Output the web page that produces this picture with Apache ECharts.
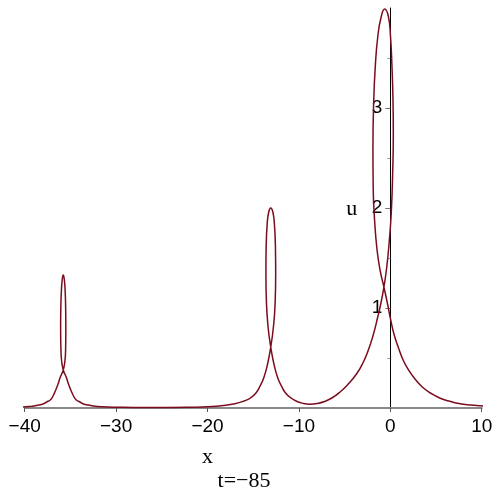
<!DOCTYPE html>
<html>
<head>
<meta charset="utf-8">
<script src="https://cdn.jsdelivr.net/npm/echarts@6/dist/echarts.min.js"></script>
<style>
  html, body { margin: 0; padding: 0; background: #fff; }
  #chart { width: 500px; height: 500px; }
</style>
</head>
<body>
<div id="chart"></div>
<script>
// 曲线按参数顺序取点 (x, u)，三个环依次连起来
const leftTail = [[-40.2, 0.01], [-39.5, 0.015], [-39, 0.02], [-38.5, 0.03], [-38, 0.04], [-37.6, 0.06], [-37.2, 0.08],
  [-36.9, 0.12], [-36.6, 0.18], [-36.35, 0.24], [-36.1, 0.31]]
const loopSmall = [[-35.78, 0.38], [-35.6, 0.47], [-35.52, 0.6], [-35.5, 0.8], [-35.52, 1.0], [-35.57, 1.16], [-35.66, 1.28], [-35.78, 1.33],
  [-35.9, 1.28], [-35.99, 1.16], [-36.05, 1.0], [-36.07, 0.8], [-36.04, 0.6], [-35.96, 0.47], [-35.78, 0.38]]
const gap1 = [[-35.46, 0.31], [-35.21, 0.24], [-34.96, 0.18], [-34.66, 0.12], [-34.36, 0.08], [-33.96, 0.06], [-33.56, 0.04],
  [-33, 0.03], [-32.5, 0.02], [-31.5, 0.012], [-30, 0.008], [-27, 0.005], [-24, 0.005], [-21.5, 0.008], [-20, 0.012],
  [-19, 0.018], [-18, 0.028], [-17, 0.042], [-16, 0.07], [-15.3, 0.1], [-14.7, 0.15], [-14.25, 0.22], [-13.85, 0.3], [-13.45, 0.43]]
const loopMid = [[-13.08, 0.61], [-12.8, 0.8], [-12.6, 1.05], [-12.54, 1.35], [-12.57, 1.62], [-12.68, 1.84], [-12.85, 1.96], [-13.08, 2.0],
  [-13.3, 1.96], [-13.47, 1.84], [-13.58, 1.62], [-13.61, 1.35], [-13.55, 1.05], [-13.36, 0.8], [-13.08, 0.61]]
const gap2 = [[-12.71, 0.43], [-12.31, 0.3], [-11.91, 0.22], [-11.46, 0.15], [-10.86, 0.1], [-10.2, 0.065], [-9.5, 0.045],
  [-8.8, 0.038], [-8.0, 0.045], [-7.2, 0.065], [-6.4, 0.1], [-5.5, 0.16], [-4.6, 0.24], [-3.7, 0.34], [-3.0, 0.45],
  [-2.4, 0.58], [-1.9, 0.72], [-1.4, 0.9], [-1.0, 1.06]]
const loopBig = [[-0.7, 1.21], [-0.4, 1.4], [-0.12, 1.66], [0.11, 1.96], [0.26, 2.35], [0.33, 2.75], [0.29, 3.1], [0.18, 3.42], [0.02, 3.72],
  [-0.22, 3.92], [-0.62, 3.99], [-1.0, 3.91], [-1.35, 3.73], [-1.64, 3.42], [-1.82, 3.05], [-1.9, 2.6], [-1.87, 2.2], [-1.72, 1.88],
  [-1.45, 1.58], [-1.1, 1.37], [-0.7, 1.21]]
const rightTail = [[-0.3, 1.04], [0.0, 0.9], [0.4, 0.74], [0.9, 0.6], [1.4, 0.48], [2.0, 0.38], [2.7, 0.29], [3.5, 0.21],
  [4.4, 0.15], [5.4, 0.1], [6.4, 0.07], [7.5, 0.045], [8.8, 0.03], [10.3, 0.02]]

const xTicks = [-40, -30, -20, -10, 0, 10]
const uTicks = [1, 2, 3]
const timeLabel = 't=−85'

const curve = [].concat(leftTail, loopSmall, gap1, loopMid, gap2, loopBig, rightTail)

const chart = echarts.init(document.getElementById('chart'))
chart.setOption({
  animation: false,
  backgroundColor: '#fff',
  grid: { left: 24.7, right: 18.3, top: 8, bottom: 92 },
  xAxis: {
    type: 'value',
    min: -40, max: 10, interval: 10,
    axisLine: { onZero: false, lineStyle: { color: '#888', width: 2 } },
    axisTick: { length: 4, lineStyle: { color: '#555' } },
    axisLabel: {
      margin: 9,
      color: '#000',
      fontSize: 19,
      fontFamily: 'Liberation Sans, Arial, sans-serif',
      customValues: xTicks,
      formatter: v => String(v).replace('-', '−'),
    },
    splitLine: { show: false },
  },
  yAxis: {
    type: 'value',
    min: 0, max: 4, interval: 1,
    // 把 u 轴挪到 x=0 处
    offset: -365.6,
    axisLine: { onZero: false, lineStyle: { color: '#000', width: 1 } },
    axisTick: { length: 5, customValues: uTicks, lineStyle: { color: '#777' } },
    minorTick: { show: true, splitNumber: 2, length: 3, lineStyle: { color: '#999' } },
    axisLabel: {
      margin: 8,
      color: '#000',
      fontSize: 19,
      fontFamily: 'Liberation Sans, Arial, sans-serif',
      customValues: uTicks,
    },
    splitLine: { show: false },
  },
  graphic: [
    { type: 'text', x: 207.5, y: 457, style: { text: 'x', font: '22px "Liberation Serif", serif', fill: '#000', align: 'center', verticalAlign: 'middle' } },
    { type: 'text', x: 351.7, y: 209, style: { text: 'u', font: '22px "Liberation Serif", serif', fill: '#000', align: 'center', verticalAlign: 'middle' } },
    { type: 'text', x: 244, y: 481, style: { text: timeLabel, font: '22px "Liberation Serif", serif', fill: '#000', align: 'center', verticalAlign: 'middle' } },
  ],
  series: [{
    type: 'line',
    data: curve,
    showSymbol: false,
    smooth: 0.5,
    clip: false,
    lineStyle: { color: '#7b0c1f', width: 1.5 },
  }],
})
</script>
</body>
</html>
